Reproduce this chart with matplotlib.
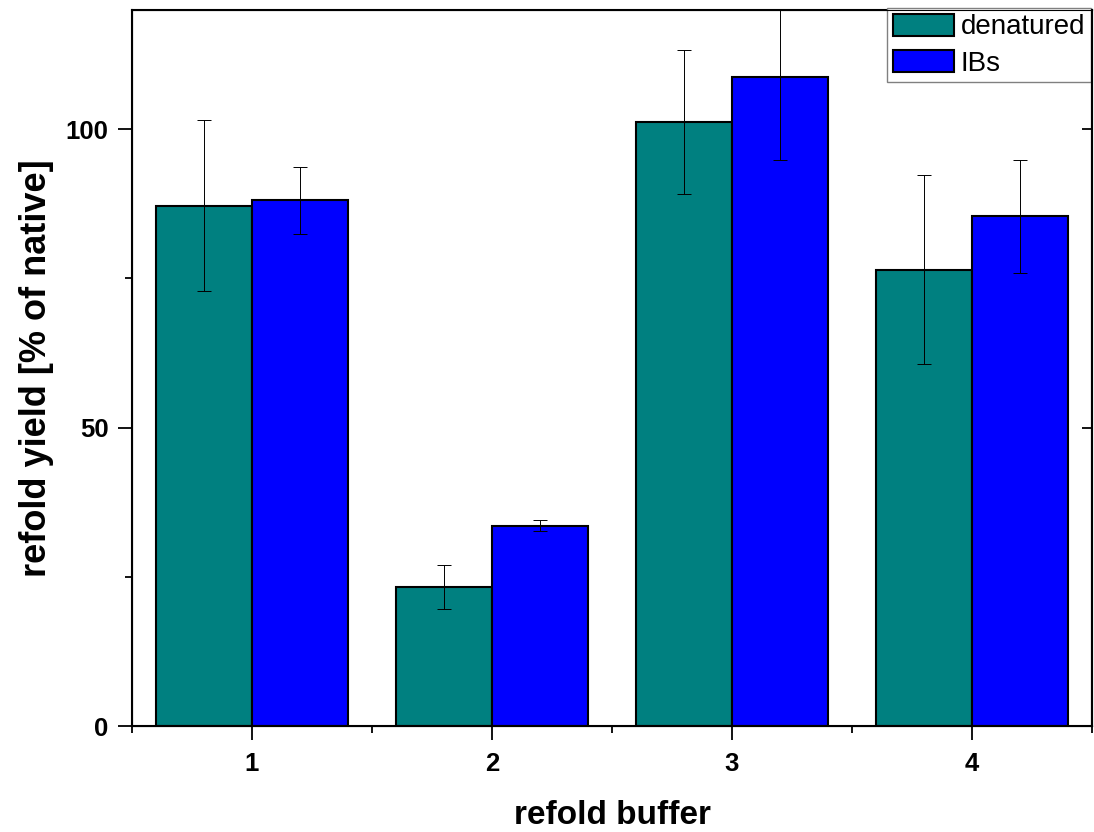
import matplotlib.pyplot as plt
import numpy as np

plt.rcParams["font.family"] = ["Liberation Sans", "DejaVu Sans"]

buffers = ["1", "2", "3", "4"]
denatured = [87.2, 23.3, 101.2, 76.5]
denatured_err = [14.3, 3.7, 12.1, 15.9]
ibs = [88.1, 33.6, 108.7, 85.4]
ibs_err = [5.6, 1.0, 13.9, 9.4]

fig = plt.figure(figsize=(10.94, 8.32), dpi=100)
ax = fig.add_axes([0.1207, 0.1274, 0.8775, 0.8606])

x = np.arange(1, len(buffers) + 1)
w = 0.4

ax.bar(x - w / 2, denatured, w, color="#008080", edgecolor="black",
       linewidth=1.5, label="denatured", zorder=2)
ax.bar(x + w / 2, ibs, w, color="#0000FF", edgecolor="black",
       linewidth=1.5, label="IBs", zorder=2)
ax.errorbar(x - w / 2, denatured, yerr=denatured_err, fmt="none",
            ecolor="black", elinewidth=0.7, capsize=5, capthick=0.7, zorder=3)
ax.errorbar(x + w / 2, ibs, yerr=ibs_err, fmt="none",
            ecolor="black", elinewidth=0.7, capsize=5, capthick=0.7, zorder=3)

ax.set_xlim(0.5, 4.5)
ax.set_ylim(0, 120)
ax.set_xticks(x)
ax.set_xticklabels(buffers)
ax.set_yticks([0, 50, 100])
ax.xaxis.set_minor_locator(plt.FixedLocator([0.5, 1.5, 2.5, 3.5, 4.5]))
ax.yaxis.set_minor_locator(plt.FixedLocator([25, 75]))

for s in ax.spines.values():
    s.set_linewidth(1.5)

ax.tick_params(axis="both", which="major", direction="out", length=10,
               width=1.3, labelsize=18.5, pad=7)
ax.tick_params(axis="both", which="minor", direction="out", length=5, width=1.3)
ax.tick_params(axis="x", which="major", pad=9)
for lab in ax.get_xticklabels() + ax.get_yticklabels():
    lab.set_fontweight("bold")

ax2 = ax.twinx()
ax2.set_ylim(0, 120)
ax2.set_yticks([50, 100])
ax2.set_yticklabels([])
ax2.tick_params(axis="y", direction="in", length=7, width=1.3)
ax2.spines["right"].set_linewidth(1.5)

ax.set_xlabel("refold buffer", fontsize=24, fontweight="bold", labelpad=17)
ax.set_ylabel("refold yield [% of native]", fontsize=26, fontweight="bold",
              labelpad=8)

leg = ax.legend(loc="upper left", bbox_to_anchor=(887 / 1094, 1 - 8 / 832),
                bbox_transform=fig.transFigure, borderaxespad=0,
                fontsize=20, fancybox=False, framealpha=1, edgecolor="gray",
                handlelength=2.2, handleheight=0.85, handletextpad=0.25,
                borderpad=0.2, labelspacing=0.35)
leg.get_frame().set_linewidth(1.0)
leg.set_zorder(5)

fig.savefig("out.png", dpi=100)
